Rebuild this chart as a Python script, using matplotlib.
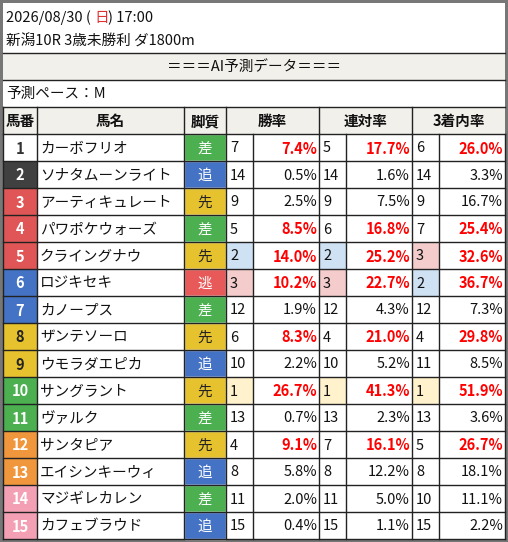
import matplotlib
matplotlib.use("Agg")
import matplotlib.pyplot as plt
from matplotlib.patches import Rectangle

plt.rcParams['font.family'] = ['Noto Sans CJK JP', 'DejaVu Sans']

date_line = "2026/08/30 ("
weekday = "日"
time_txt = ") 17:00"
race_line = "新潟10R 3歳未勝利 ダ1800m"
banner = "＝＝＝AI予測データ＝＝＝"
pace_line = "予測ペース：M"
headers = ["馬番", "馬名", "脚質", "勝率", "連対率", "3着内率"]

nums = list(range(1, 16))
names = ["カーボフリオ", "ソナタムーンライト", "アーティキュレート", "パワポケウォーズ", "クライングナウ",
         "ロジキセキ", "カノープス", "ザンテソーロ", "ウモラダエピカ", "サングラント",
         "ヴァルク", "サンタピア", "エイシンキーウィ", "マジギレカレン", "カフェブラウド"]
styles = ["差", "追", "先", "差", "先", "逃", "差", "先", "追", "先", "差", "先", "追", "差", "追"]
win_rank = [7, 14, 9, 5, 2, 3, 12, 6, 10, 1, 13, 4, 8, 11, 15]
win_pct = [7.4, 0.5, 2.5, 8.5, 14.0, 10.2, 1.9, 8.3, 2.2, 26.7, 0.7, 9.1, 5.8, 2.0, 0.4]
ren_rank = [5, 14, 9, 6, 2, 3, 12, 4, 10, 1, 13, 7, 8, 11, 15]
ren_pct = [17.7, 1.6, 7.5, 16.8, 25.2, 22.7, 4.3, 21.0, 5.2, 41.3, 2.3, 16.1, 12.2, 5.0, 1.1]
fuku_rank = [6, 14, 9, 7, 3, 2, 12, 4, 11, 1, 13, 5, 8, 10, 15]
fuku_pct = [26.0, 3.3, 16.7, 25.4, 32.6, 36.7, 7.3, 29.8, 8.5, 51.9, 3.6, 26.7, 18.1, 11.1, 2.2]

frame_colors = ["#ffffff", "#404040", "#e05555", "#e05555", "#e05555", "#4472c4", "#4472c4",
                "#e6c22e", "#e6c22e", "#4caf50", "#4caf50", "#f0963c", "#f0963c", "#f3a0b4", "#f3a0b4"]
frame_text = ["#333333", "white", "white", "white", "white", "white", "white",
              "#222222", "#222222", "white", "white", "white", "white", "white", "white"]
style_col = {"差": "#4caf50", "追": "#4472c4", "先": "#e6c22e", "逃": "#e85a5a"}
style_txt = {"差": "white", "追": "white", "先": "#222222", "逃": "white"}
rank_bg = {1: "#fff2cc", 2: "#cfe2f3", 3: "#f4cccc"}

fig = plt.figure(figsize=(5.08, 5.42), dpi=100)
ax = fig.add_axes([0, 0, 1, 1])
ax.set_xlim(0, 508); ax.set_ylim(542, 0); ax.axis('off')
fig.patch.set_facecolor('#777777')
ax.add_patch(Rectangle((3, 3), 502, 536, fc='white', ec='none'))

FS = 10.5
L, R = 3, 505
# header area
ax.text(6, 18, date_line, fontsize=FS, va='center', ha='left', color='#111')
ax.text(94, 18, weekday, fontsize=FS, va='center', ha='left', color='#e03030')
ax.text(108, 18, time_txt, fontsize=FS, va='center', ha='left', color='#111')
ax.text(6, 41, race_line, fontsize=FS, va='center', ha='left', color='#111')
ax.add_patch(Rectangle((L, 53), R - L, 27, fc='#f2f0eb', ec='none'))
ax.text(254, 67, banner, fontsize=FS, va='center', ha='center', color='#111')
ax.text(6, 94, pace_line, fontsize=FS, va='center', ha='left', color='#111')
ax.add_patch(Rectangle((L, 107), R - L, 27, fc='#f2f0eb', ec='none'))
for y in (53, 80, 107):
    ax.plot([L, R], [y, y], color='#222', lw=1)

cols = [3, 37, 184, 226, 253, 319, 346, 412, 439, 505]
hdr_spans = [(0, 1), (1, 2), (2, 3), (3, 5), (5, 7), (7, 9)]
for h, (a, b) in zip(headers, hdr_spans):
    ax.text((cols[a] + cols[b]) / 2, 121, h, fontsize=FS, va='center', ha='center',
            weight='bold', color='#111')
    ax.plot([cols[a], cols[a]], [107, 134], color='#222', lw=1)

top = 134; rh = 27
for i in range(len(nums)):
    y0 = top + i * rh; yc = y0 + rh / 2 + 1
    ax.add_patch(Rectangle((cols[0], y0), cols[1] - cols[0], rh, fc=frame_colors[i], ec='none'))
    ax.text((cols[0] + cols[1]) / 2, yc, str(nums[i]), fontsize=FS, weight='bold',
            ha='center', va='center', color=frame_text[i])
    ax.text(cols[1] + 3, yc, names[i], fontsize=FS, ha='left', va='center', color='#111')
    s = styles[i]
    ax.add_patch(Rectangle((cols[2], y0), cols[3] - cols[2], rh, fc=style_col[s], ec='white', lw=1))
    ax.text((cols[2] + cols[3]) / 2, yc, s, fontsize=FS, ha='center', va='center', color=style_txt[s])
    for k, (rk, pc) in enumerate([(win_rank[i], win_pct[i]), (ren_rank[i], ren_pct[i]),
                                   (fuku_rank[i], fuku_pct[i])]):
        c0, c1, c2 = cols[3 + 2 * k], cols[4 + 2 * k], cols[5 + 2 * k]
        if rk in rank_bg:
            ax.add_patch(Rectangle((c0, y0), c1 - c0, rh, fc=rank_bg[rk], ec='none'))
        ax.text(c0 + 4, yc, str(rk), fontsize=FS, ha='left', va='center', color='#111')
        hot = rk <= 7
        ax.text(c2 - 2, yc, f"{pc:.1f}%", fontsize=FS, ha='right', va='center',
                color='#ff0000' if hot else '#111', weight='bold' if hot else 'normal')
    ax.plot([L, R], [y0, y0], color='#222', lw=1)

bot = top + rh * len(nums)
for j, x in enumerate(cols):
    ax.plot([x, x], [top, bot], color='#222', lw=1)
ax.plot([L, R], [bot, bot], color='#222', lw=1)

fig.savefig("out.png", dpi=100, facecolor=fig.get_facecolor())
